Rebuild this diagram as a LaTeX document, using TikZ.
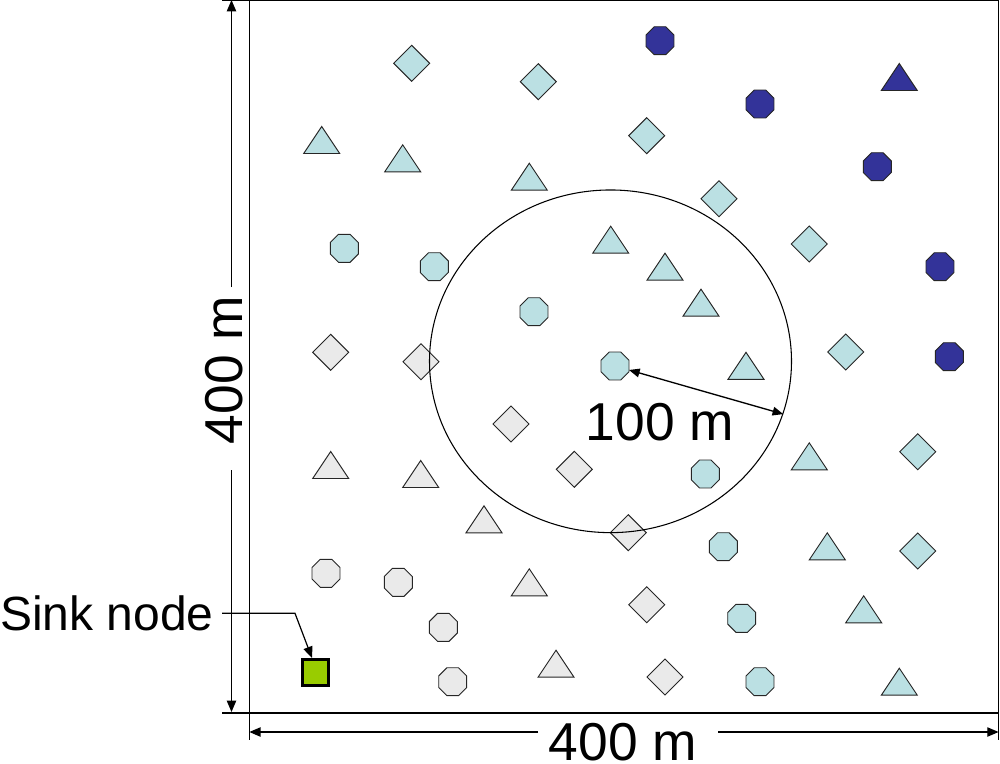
\documentclass[tikz,border=0pt]{standalone}
\usepackage{fontspec}
\setmainfont{Liberation Sans}
\usetikzlibrary{shapes.geometric,arrows.meta}
\definecolor{cy}{HTML}{BBE0E3}
\definecolor{gr}{HTML}{EAEAEA}
\definecolor{db}{HTML}{333399}
\definecolor{sg}{HTML}{99CC00}
\tikzset{
  shp/.style={draw=black!85, line width=0.7pt, inner sep=0pt, outer sep=0pt},
  oct/.style={shp, regular polygon, regular polygon sides=8, minimum size=22.7pt},
  dia/.style={shp, diamond, minimum width=27pt, minimum height=27pt},
  tri/.pic={\path[pic actions] (-18,13.5) -- (18,13.5) -- (0,-13.5) -- cycle;},
  C/.style={fill=cy}, G/.style={fill=gr}, B/.style={fill=db},
  dim/.style={line width=1pt},
  tipe/.style={-{Triangle[length=8.5pt,width=7pt]}},
  tipb/.style={{Triangle[length=8pt,width=6.5pt]}-{Triangle[length=8pt,width=6.5pt]}},
  lbl/.style={font=\fontsize{40}{40}\selectfont, inner sep=0pt, anchor=base},
}
\begin{document}
\begin{tikzpicture}[x=0.75pt,y=-0.75pt]
\useasboundingbox (0,0) rectangle (1000,764);
% extension / frame lines
\coordinate (tl) at (222,0.6); \coordinate (tr) at (999,0.6);
\coordinate (bl) at (222,713); \coordinate (br) at (999,713);
\coordinate (lt) at (249.3,0); \coordinate (lb) at (249.3,740);
\coordinate (rt) at (998.6,0); \coordinate (rb) at (998.6,740);
\draw[dim] (tl) -- (tr);
\draw[dim] (bl) -- (br);
\draw[dim] (lt) -- (lb);
\draw[dim] (rt) -- (rb);
% vertical dimension
\coordinate (vtop) at (231.5,0); \coordinate (vg1) at (231.5,287);
\coordinate (vg2) at (231.5,470); \coordinate (vbot) at (231.5,712);
\draw[dim,tipe] (vg1) -- (vtop);
\draw[dim,tipe] (vg2) -- (vbot);
\node[lbl, rotate=90] (vlab) at (242,370) {400 m};
% horizontal dimension
\coordinate (hl) at (249.3,732); \coordinate (hg1) at (538,732);
\coordinate (hg2) at (718,732); \coordinate (hr) at (998.6,732);
\draw[dim,tipe] (hg1) -- (hl);
\draw[dim,tipe] (hg2) -- (hr);
\node[lbl] (hlab) at (623,760.5) {400 m};
% cyan diamonds
\node[dia,C] (cd1) at (411.7,63.3) {};
\node[dia,C] (cd2) at (538.3,81.7) {};
\node[dia,C] (cd3) at (646.7,135.7) {};
\node[dia,C] (cd4) at (719,198.7) {};
\node[dia,C] (cd5) at (809.3,244) {};
\node[dia,C] (cd6) at (845.7,352) {};
\node[dia,C] (cd7) at (917.7,451.7) {};
\node[dia,C] (cd8) at (917.7,551) {};
% cyan triangles
\pic[shp,C] (ct1) at (321.7,140) {tri};
\pic[shp,C] (ct2) at (402.7,158.3) {tri};
\pic[shp,C] (ct3) at (529.3,176.7) {tri};
\pic[shp,C] (ct4) at (610.7,239.7) {tri};
\pic[shp,C] (ct5) at (665,266.7) {tri};
\pic[shp,C] (ct6) at (701,302.7) {tri};
\pic[shp,C] (ct7) at (746,365.8) {tri};
\pic[shp,C] (ct8) at (809.3,456.3) {tri};
\pic[shp,C] (ct9) at (827.3,546.3) {tri};
\pic[shp,C] (ct10) at (863.7,609.3) {tri};
\pic[shp,C] (ct11) at (899.3,681.7) {tri};
% dark triangle
\pic[shp,B] (bt1) at (899.3,77) {tri};
% cyan octagons
\node[oct,C] (co1) at (344.3,248.3) {};
\node[oct,C] (co2) at (434.3,266.7) {};
\node[oct,C] (co3) at (534,311.7) {};
\node[oct,C] (co4) at (615,366) {};
\node[oct,C] (co5) at (705.3,474) {};
\node[oct,C] (co6) at (723.3,546.7) {};
\node[oct,C] (co7) at (741.7,618.3) {};
\node[oct,C] (co8) at (760,681.7) {};
% dark octagons
\node[oct,B] (bo1) at (660,40.7) {};
\node[oct,B] (bo2) at (760,104) {};
\node[oct,B] (bo3) at (877.3,166.7) {};
\node[oct,B] (bo4) at (940,266.7) {};
\node[oct,B] (bo5) at (949.3,356.7) {};
% grey diamonds
\node[dia,G] (gd1) at (330.7,352.3) {};
\node[dia,G] (gd2) at (421,361.7) {};
\node[dia,G] (gd3) at (511,424) {};
\node[dia,G] (gd4) at (574.3,469.3) {};
\node[dia,G] (gd5) at (628.3,532.7) {};
\node[dia,G] (gd6) at (646.7,604.7) {};
\node[dia,G] (gd7) at (665,677) {};
% grey triangles
\pic[shp,G] (gt1) at (330.7,465) {tri};
\pic[shp,G] (gt2) at (420.7,474) {tri};
\pic[shp,G] (gt3) at (484,519.3) {tri};
\pic[shp,G] (gt4) at (529.3,582.3) {tri};
\pic[shp,G] (gt5) at (556,663.7) {tri};
% grey octagons
\node[oct,G] (go1) at (326,573.3) {};
\node[oct,G] (go2) at (398.3,582.3) {};
\node[oct,G] (go3) at (443.3,627.3) {};
\node[oct,G] (go4) at (452.7,681.7) {};
% sink
\node[draw=black, line width=2.2pt, fill=sg, minimum size=19.5pt, inner sep=0pt] (sink) at (315.5,672.5) {};
\node[lbl, anchor=base west, font=\fontsize{36}{36}\selectfont] (sinklab) at (0,630) {Sink node};
\coordinate (l0) at (222,613.3);
\coordinate (l1) at (295,613.3);
\coordinate (l2) at (312,658);
\draw[line width=0.9pt, tipe] (l0) -- (l1) -- (l2);
% range circle
\node[draw, line width=0.8pt, ellipse, minimum width=271.5pt, minimum height=257pt, inner sep=0pt] (range) at (610.5,361.3) {};
\draw[line width=1pt, tipb] (co4) -- (range.-17.7);
\node[lbl] (rlab) at (660,440) {100 m};
\end{tikzpicture}
\end{document}
